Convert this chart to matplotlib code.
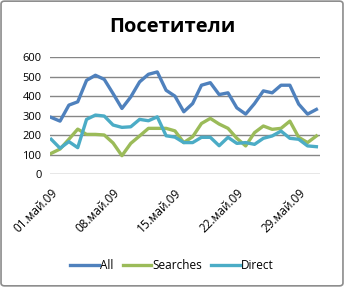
import matplotlib.pyplot as plt
from matplotlib.patches import FancyBboxPatch

# data (May 2009, daily)
days = list(range(1, 32))
all_visits = [291, 272, 354, 371, 481, 507, 486, 413, 337, 396, 473, 512, 524, 430, 400,
              320, 362, 456, 469, 408, 417, 340, 308, 362, 427, 417, 456, 456, 359, 308, 332]
searches = [107, 129, 179, 231, 204, 204, 201, 160, 95, 158, 196, 235, 235, 235, 222,
            162, 192, 260, 286, 257, 235, 184, 145, 213, 247, 230, 235, 272, 189, 162, 196]
direct = [179, 133, 167, 136, 281, 303, 298, 252, 240, 243, 281, 274, 294, 197, 190,
          162, 162, 189, 189, 146, 189, 158, 162, 153, 184, 196, 221, 184, 179, 145, 141]
tick_days = [1, 8, 15, 22, 29]
tick_labels = ['01.май.09', '08.май.09', '15.май.09', '22.май.09', '29.май.09']

plt.rcParams['font.family'] = ['Open Sans', 'DejaVu Sans']

fig = plt.figure(figsize=(3.44, 2.87), dpi=100)
fig.patches.append(FancyBboxPatch((0.003, 0.004), 0.994, 0.992, boxstyle='round,pad=0,rounding_size=0.01',
                                  transform=fig.transFigure, fc='none', ec='#8c8c8c', lw=1.2))

ax = fig.add_axes([0.145, 0.393, 0.785, 0.408])
ax.plot(days, all_visits, color='#4F81BD', lw=2.4, label='All')
ax.plot(days, searches, color='#9BBB59', lw=2.4, label='Searches')
ax.plot(days, direct, color='#4BACC6', lw=2.4, label='Direct')

ax.set_ylim(0, 600)
ax.set_yticks(range(0, 601, 100))
ax.set_xlim(0.85, 31.4)
ax.set_xticks(tick_days)
ax.set_xticklabels(tick_labels, rotation=45, ha='right', rotation_mode='anchor', fontsize=8.5)
ax.grid(axis='y', color='#868686', lw=1)
ax.set_axisbelow(True)
for s in ax.spines.values():
    s.set_visible(False)
ax.tick_params(axis='y', length=0, labelsize=8, pad=6)
ax.tick_params(axis='x', length=0, pad=9)
ax.patch.set_alpha(0)

fig.text(0.5, 0.905, 'Посетители', ha='center', va='center', fontsize=14.5, fontweight='bold')
fig.legend(loc='center', bbox_to_anchor=(0.5, 0.075), ncol=3, frameon=False, fontsize=8.5,
           handlelength=2.4, handletextpad=0.1, columnspacing=0.8)

fig.savefig('out.png', dpi=100)
